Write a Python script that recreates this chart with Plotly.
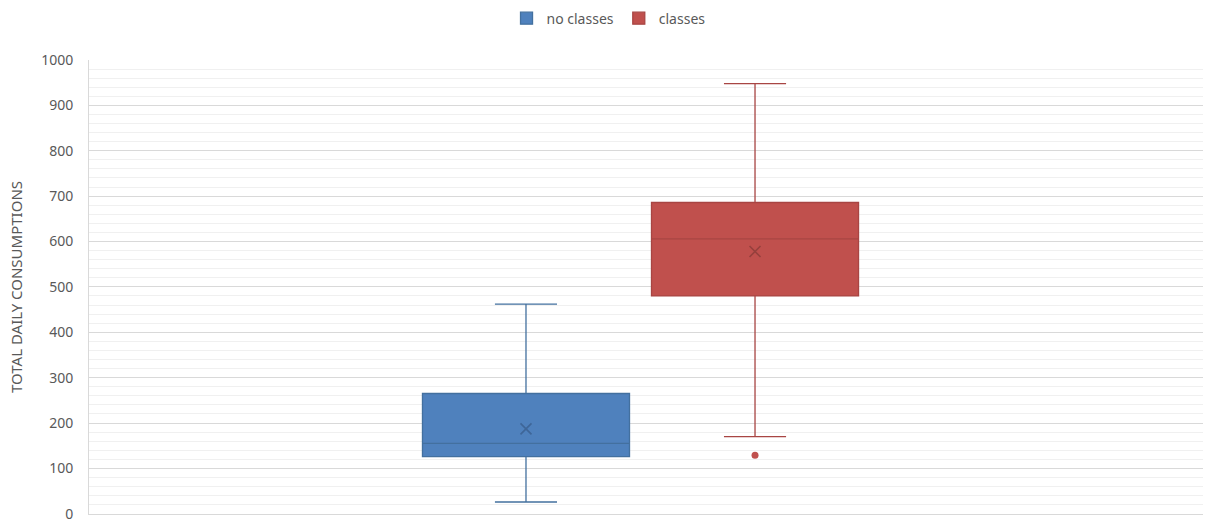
import plotly.graph_objects as go

# ---- data ----
series_names = ["no classes", "classes"]
q1_vals = [126, 480]
median_vals = [155, 606]
q3_vals = [265, 686]
lower_whisker = [26, 170]
upper_whisker = [462, 948]
mean_vals = [187, 578]
outlier_series = ["classes"]
outlier_vals = [129]
y_ticks = [0, 100, 200, 300, 400, 500, 600, 700, 800, 900, 1000]

fill_colors = ["#4f81bd", "#c0504d"]
line_colors = ["#43709f", "#a84543"]
dark_colors = ["#3e6698", "#96403d"]

fig = go.Figure()

for i, name in enumerate(series_names):
    fig.add_trace(go.Box(
        name=name,
        x=[name],
        q1=[q1_vals[i]],
        median=[median_vals[i]],
        q3=[q3_vals[i]],
        lowerfence=[lower_whisker[i]],
        upperfence=[upper_whisker[i]],
        boxmean=False,
        fillcolor=fill_colors[i],
        line=dict(color=line_colors[i], width=1.3),
        whiskerwidth=0.3,
        boxpoints=False,
        hoverinfo="skip",
    ))

for i, name in enumerate(series_names):
    fig.add_trace(go.Scatter(
        x=[name], y=[mean_vals[i]], mode="markers",
        marker=dict(symbol="x-thin", size=11,
                    line=dict(color=dark_colors[i], width=1.6)),
        showlegend=False, hoverinfo="skip",
    ))

fig.add_trace(go.Scatter(
    x=outlier_series, y=outlier_vals, mode="markers",
    marker=dict(symbol="circle", size=7, color=fill_colors[1]),
    showlegend=False, hoverinfo="skip",
))

font_family = "Noto Sans, Liberation Sans, sans-serif"

fig.update_layout(
    width=1205, height=522,
    margin=dict(l=89, r=2, t=60, b=8, autoexpand=False),
    paper_bgcolor="white", plot_bgcolor="white",
    boxmode="overlay", boxgap=0.096, boxgroupgap=0,
    font=dict(family=font_family, size=14, color="#595959"),
    legend=dict(orientation="h", xref="container", x=0.505, xanchor="center",
                yref="container", y=0.995, yanchor="top",
                font=dict(size=14, color="#595959"), itemwidth=30,
                traceorder="normal"),
    showlegend=True,
    xaxis=dict(type="category", categoryorder="array", categoryarray=series_names,
               range=[-1.908, 2.956], showticklabels=False, showgrid=False,
               zeroline=False, showline=True, linecolor="#d9d9d9", linewidth=1,
               ticks="", automargin=False),
    yaxis=dict(range=[-0.5, 1000], tickmode="array", tickvals=y_ticks,
               showgrid=True, automargin=False,
               gridcolor="#d9d9d9", gridwidth=1, zeroline=False,
               showline=True, linecolor="#d9d9d9", linewidth=1,
               ticks="", ticklabelstandoff=12, ticklabeloverflow="allow",
               tickfont=dict(size=14, color="#595959"),
               minor=dict(dtick=20, tick0=0, showgrid=True, gridcolor="#f0f0f0", gridwidth=1),
               title=dict(text="TOTAL DAILY CONSUMPTIONS", standoff=14,
                          font=dict(size=15, color="#595959"))),
)

fig.write_html("out.html")
